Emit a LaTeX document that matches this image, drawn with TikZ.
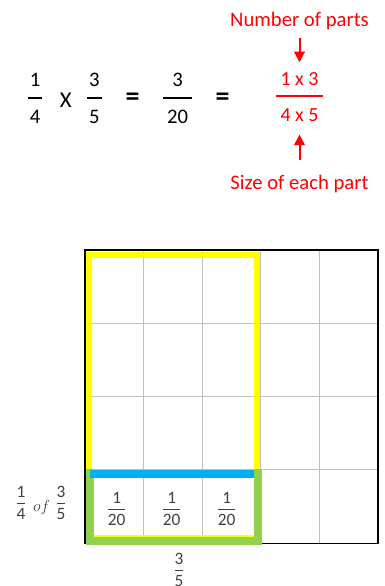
\documentclass[tikz,border=0pt]{standalone}
\usepackage{fontspec}
\setmainfont{Carlito}
\usepackage{tikz}
\usetikzlibrary{arrows.meta, positioning}
\definecolor{partred}{HTML}{FF0000}
\definecolor{hlyellow}{HTML}{FFFF00}
\definecolor{hlgreen}{HTML}{92D050}
\definecolor{hlblue}{HTML}{00B0F0}
\definecolor{gridgray}{HTML}{BFBFBF}
\definecolor{cellgray}{HTML}{404040}
% stacked fractions in the text font
\newcommand{\bigfrac}[3][3pt]{{\setlength{\arrayrulewidth}{1.5pt}\setlength{\tabcolsep}{#1}%
  \begin{tabular}{c}#2\\[2pt]\hline\rule{0pt}{18pt}#3\end{tabular}}}
\newcommand{\smallfrac}[2]{{\setlength{\arrayrulewidth}{0.6pt}\setlength{\tabcolsep}{0pt}%
  \begin{tabular}{c}#1\\[-0.5pt]\hline\rule{0pt}{11.6pt}#2\end{tabular}}}
\tikzset{
  eqtxt/.style  ={inner sep=0pt, font=\fontsize{15.5}{18.6}\selectfont, text=black},
  eqsign/.style ={inner sep=0pt, font=\fontsize{21}{25}\selectfont\bfseries, text=black},
  redtxt/.style ={inner sep=0pt, font=\fontsize{15}{18}\selectfont, text=partred},
  redlbl/.style ={inner sep=0pt, font=\fontsize{15.5}{18.6}\selectfont, text=partred},
  redarr/.style ={-{Triangle[width=8pt,length=8pt]}, line width=1.5pt, color=partred},
  celltxt/.style={inner sep=0pt, font=\fontsize{13}{15.6}\selectfont, text=cellgray},
  gridln/.style ={line width=0.75pt, color=gridgray},
  gridbox/.style={line width=1.2pt, color=black},
  yellowbox/.style={line width=4.7pt, draw=hlyellow},
  greenbox/.style ={line width=6pt, draw=hlgreen},
  bluebar/.style  ={line width=5.7pt, draw=hlblue},
}
\begin{document}
\begin{tikzpicture}[x=0.75pt, y=-0.75pt]
  \useasboundingbox (0,0) rectangle (385,586);
  % equation
  \node[eqtxt] (fa)    at (35,100)    {\bigfrac[1.5pt]{1}{4}};
  \node[eqtxt, font=\fontsize{17}{20}\selectfont] (times) at (65.7,100) {X};
  \node[eqtxt] (fb)    at (94.3,100)  {\bigfrac[1.5pt]{3}{5}};
  \node[eqsign] (eqa)  at (132.7,99)  {=};
  \node[eqtxt] (fc)    at (177.7,100) {\bigfrac{3}{20}};
  \node[eqsign] (eqb)  at (222.7,99)  {=};
  \node[redtxt] (rfrac) at (299.5,98.5) {\bigfrac[3.5pt]{1 x 3}{4 x 5}};
  % red notes
  \node[redlbl, anchor=base] (nparts) at (299.5,26)  {Number of parts};
  \node[redlbl, anchor=base] (psize)  at (299.5,189) {Size of each part};
  \draw[redarr, shorten <=6pt, shorten >=4.5pt]  (nparts.south) -- (rfrac.north);
  \draw[redarr, shorten <=11pt, shorten >=4.4pt] (psize.north)  -- (rfrac.south);
  % grid 5 x 4
  \foreach \i in {1,...,4}
    \draw[gridln] (85+\i*58.6,250) -- (85+\i*58.6,543.3);
  \foreach \j in {1,2,3}
    \draw[gridln] (85,250+\j*73.33) -- (378,250+\j*73.33);
  \draw[gridbox] (85,250) rectangle (378,543.3);
  % 3/5 and 1/4 of it
  \draw[yellowbox] (89,255) rectangle (256.7,538);
  \draw[greenbox] (90,469.3) -- (90,541) -- (258,541) -- (258,469.3);
  \draw[bluebar] (89.5,474) -- (254,474);
  \foreach \x [count=\k] in {116.7,171.7,226.7}
    \node[celltxt] (part\k) at (\x,510.1) {\smallfrac{1}{20}};
  % side and base labels
  \node[celltxt] (qa) at (21,504.1) {\smallfrac{1}{4}};
  \node[celltxt, anchor=base] (of) at (41.5,511.7) {$of$};
  \node[celltxt] (qb) at (61,504.1) {\smallfrac{3}{5}};
  \node[celltxt] (base) at (179,571.5) {\smallfrac{3}{5}};
\end{tikzpicture}
\end{document}
